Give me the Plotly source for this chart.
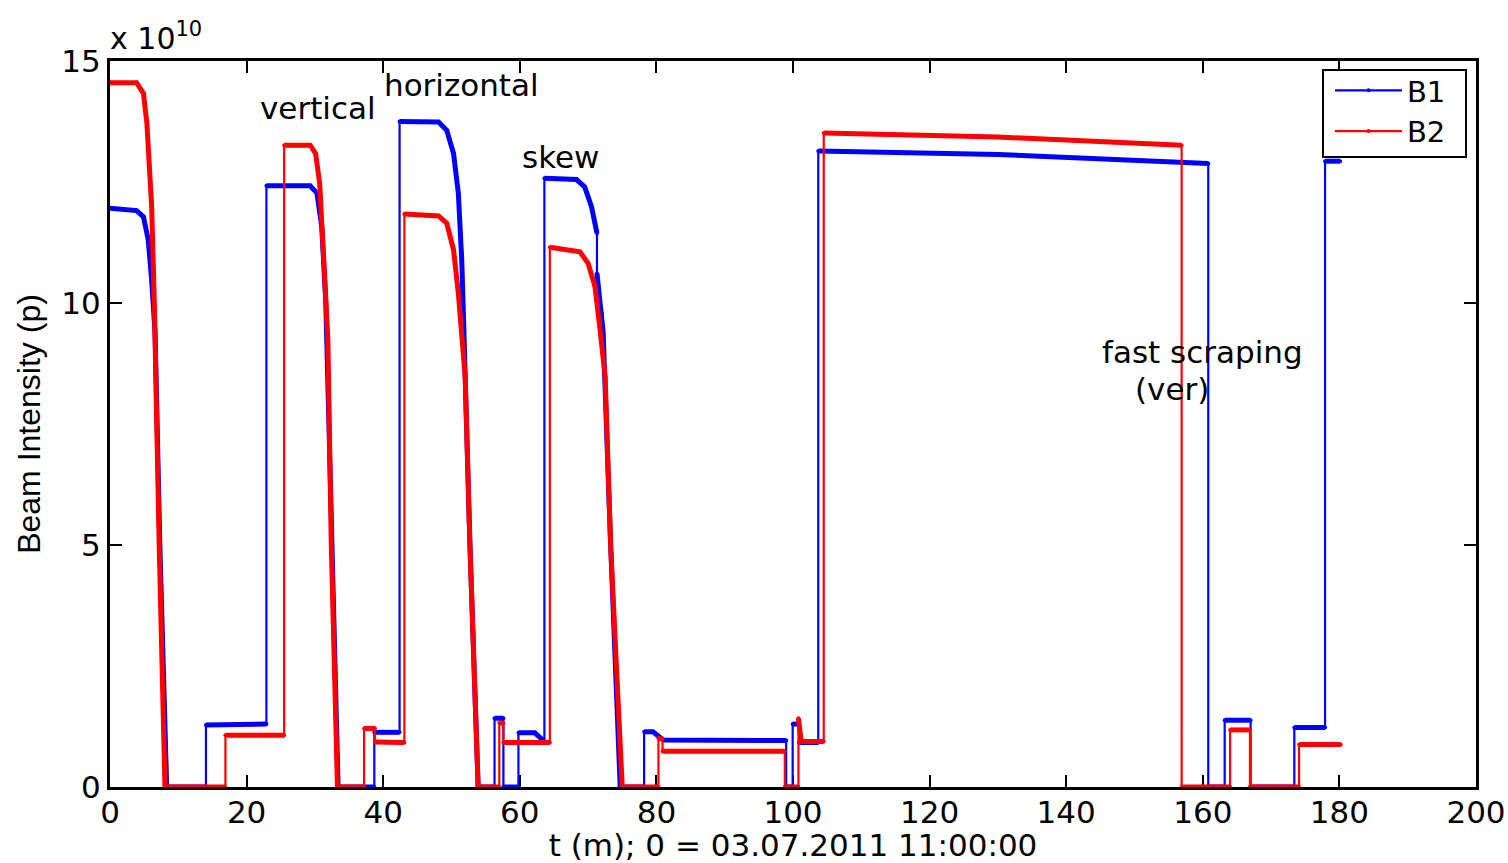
import plotly.graph_objects as go

# ---- data (time in minutes, intensity in units of 1e10 protons) ----
b1_t = [0, 3.9, 4.9, 5.6, 6.1, 6.6, 7.3, 8.3, 14.05, 14.05, 22.9, 22.9, 29.3, 30.3, 31.0,
        31.6, 32.5, 33.4, 38.7, 38.7, 42.4, 42.4, 48.1, 49.3, 50.3, 51.0, 51.5, 51.8, 52.7,
        53.9, 56.3, 56.3, 57.6, 57.6, 59.8, 59.8, 62.2, 63.6, 63.6, 68.3, 69.5, 70.5, 71.3,
        71.3, 72.0, 72.2, 73.3, 74.7, 78.2, 78.2, 79.5, 81.0, 99.0, 99.0, 99.95, 99.95,
        100.9, 100.9, 103.7, 103.7, 130.0, 160.8, 160.8, 163.2, 163.2, 167.0, 167.0, 173.4,
        173.4, 177.9, 177.9, 180.1]
b1_i = [11.96, 11.91, 11.78, 11.30, 10.47, 9.38, 5.0, 0, 0, 1.28, 1.30, 12.42, 12.42, 12.27,
        11.58, 10.0, 5.0, 0, 0, 1.13, 1.13, 13.75, 13.74, 13.57, 13.09, 12.27, 10.89, 9.5,
        5.0, 0, 0, 1.42, 1.42, 0, 0, 1.12, 1.12, 0.94, 12.58, 12.55, 12.40, 11.99, 11.44,
        10.61, 9.79, 9.4, 5.0, 0, 0, 1.14, 1.14, 0.97, 0.96, 0, 0, 1.30, 1.30, 0.92, 0.92,
        13.14, 13.07, 12.88, 0, 0, 1.38, 1.38, 0, 0, 1.23, 1.23, 12.93, 12.93]

b2_t = [0, 3.9, 4.9, 5.4, 6.1, 6.5, 7.2, 8.05, 16.9, 16.9, 25.5, 25.5, 29.3, 30.1, 30.7,
        31.4, 31.9, 32.4, 33.3, 37.2, 37.2, 38.8, 38.8, 43.1, 43.1, 48.1, 49.3, 50.3, 51.0,
        51.5, 52.0, 52.7, 53.9, 57.0, 57.0, 57.6, 57.6, 64.4, 64.4, 68.8, 70.0, 71.0, 71.7,
        72.5, 73.3, 75.0, 80.3, 80.3, 80.9, 80.9, 98.8, 98.8, 100.8, 100.8, 101.2, 104.5,
        104.5, 130.0, 156.9, 156.9, 164.0, 164.0, 166.9, 166.9, 174.1, 174.1, 180.2]
b2_i = [14.55, 14.55, 14.33, 13.72, 11.99, 9.95, 5.0, 0, 0, 1.07, 1.07, 13.26, 13.26, 13.09,
        12.47, 10.62, 9.24, 5.0, 0, 0, 1.21, 1.21, 0.93, 0.92, 11.84, 11.80, 11.65, 11.10,
        10.2, 9.30, 8.48, 5.0, 0, 0, 1.32, 1.32, 0.92, 0.92, 11.15, 11.06, 10.82, 10.34,
        9.51, 8.48, 5.0, 0, 0, 1.0, 1.0, 0.74, 0.74, 0, 0, 1.42, 0.94, 0.94, 13.51, 13.43,
        13.26, 0, 0, 1.18, 1.18, 0, 0, 0.88, 0.88]

x_ticks = [0, 20, 40, 60, 80, 100, 120, 140, 160, 180, 200]
y_ticks = [0, 5, 10, 15]
y_ticktext = ["0", "5", "10", "15"]

labels = [("vertical", 30.45, 14.03), ("horizontal", 51.5, 14.5), ("skew", 66.0, 13.02),
          ("fast scraping", 160.0, 8.99), ("(ver)", 155.5, 8.22)]

FONT_W = "DejaVu Sans, Verdana, sans-serif"          # wide face for horizontal text
FONT = "Liberation Sans, Arial, Helvetica, sans-serif"


def thick_segments(t, v):
    """Return the non-vertical segments (sampled stretches) separated by gaps."""
    xs, ys = [], []
    for k in range(len(t) - 1):
        if t[k + 1] != t[k]:
            if xs and xs[-1] == t[k] and ys[-1] == v[k]:
                xs.append(t[k + 1]); ys.append(v[k + 1])
            else:
                if xs:
                    xs.append(None); ys.append(None)
                xs += [t[k], t[k + 1]]; ys += [v[k], v[k + 1]]
    return xs, ys


fig = go.Figure()
for name, t, v, col in [("B1", b1_t, b1_i, "#0000FF"), ("B2", b2_t, b2_i, "#FF0000")]:
    fig.add_trace(go.Scatter(x=t, y=v, mode="lines+markers", name=name,
                             line=dict(color=col, width=2.2),
                             marker=dict(color=col, size=4)))
    xs, ys = thick_segments(t, v)
    fig.add_trace(go.Scatter(x=xs, y=ys, mode="lines", showlegend=False,
                             line=dict(color=col, width=5), hoverinfo="skip"))

for txt, xv, yv in labels:
    fig.add_annotation(x=xv, y=yv, text=txt, showarrow=False,
                       font=dict(family=FONT_W, size=31, color="black"))

fig.add_annotation(xref="paper", yref="paper", x=0, y=1, xanchor="left", yanchor="bottom",
                   text="x 10<sup>10</sup>", showarrow=False, yshift=3, xshift=-2,
                   font=dict(family=FONT_W, size=30, color="black"))

# legend frame (box drawn behind the legend entries)
fig.add_shape(type="rect", xref="paper", yref="paper", x0=0.8880, x1=0.9927,
              y0=0.8678, y1=0.9876, line=dict(color="black", width=2),
              fillcolor="white", layer="above")

axis_common = dict(showline=True, linewidth=3, linecolor="black", mirror="ticks",
                   ticks="inside", ticklen=12, tickwidth=2, tickcolor="black",
                   showgrid=False, zeroline=False, layer="below traces", automargin=False,
                   tickfont=dict(family=FONT_W, size=31, color="black"))

fig.update_xaxes(range=[0, 200], tickvals=x_ticks, ticktext=[str(v) for v in x_ticks],
                 ticklabelstandoff=-4,
                 title=dict(text="t (m); 0 = 03.07.2011 11:00:00", standoff=4,
                            font=dict(family=FONT_W, size=31, color="black")),
                 **axis_common)
fig.update_yaxes(range=[0, 15], tickvals=y_ticks, ticktext=y_ticktext,
                 title=dict(text="Beam Intensity (p)", standoff=12,
                            font=dict(family=FONT, size=32, color="black")),
                 **axis_common)

fig.update_layout(
    width=1508, height=863,
    margin=dict(l=110, r=32, t=61, b=76, autoexpand=False),
    plot_bgcolor="white", paper_bgcolor="white",
    font=dict(family=FONT_W, color="black"),
    showlegend=True,
    legend=dict(x=0.8931, y=0.9945, xanchor="left", yanchor="top",
                borderwidth=0, bgcolor="rgba(0,0,0,0)",
                itemwidth=67,
                font=dict(family=FONT_W, size=29, color="black"),
                tracegroupgap=0),
)

fig.write_html("out.html", config={"displayModeBar": False},
               post_script="document.body.style.margin='0px';document.body.style.padding='0px';")
